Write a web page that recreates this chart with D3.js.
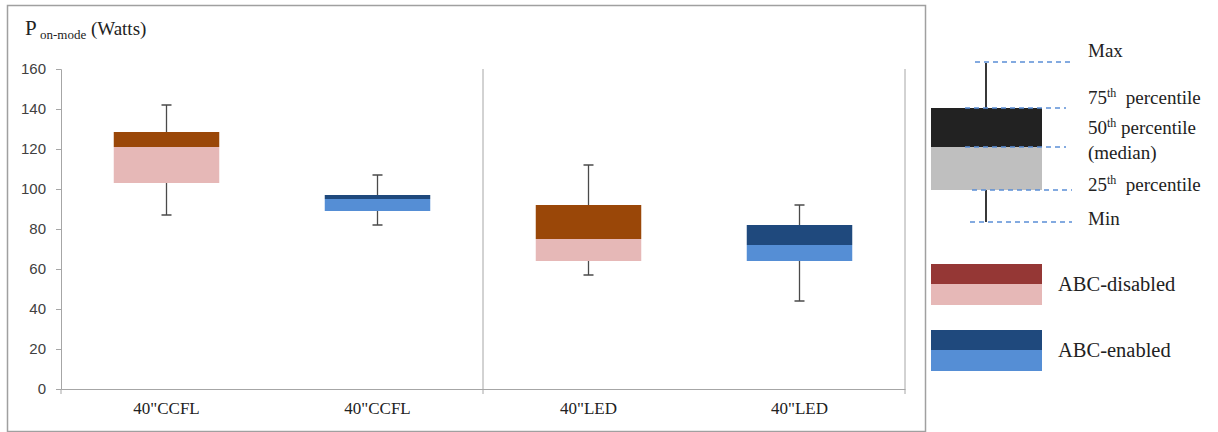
<!DOCTYPE html>
<html><head><meta charset="utf-8">
<script src="https://cdn.jsdelivr.net/npm/d3@7"></script>
<style>
body{margin:0;background:#fff;}
svg text{font-family:"Liberation Serif","DejaVu Serif",serif;white-space:pre;}
</style></head>
<body><svg id="c" width="1218" height="432"></svg>
<script>
const categories = ['40"CCFL_a','40"CCFL_b','40"LED_a','40"LED_b'];
const categoryLabels = ['40"CCFL','40"CCFL','40"LED','40"LED'];
const groups = ["disabled","enabled","disabled","enabled"];
const minVals = [87, 82, 57, 44];
const q1Vals = [103, 89, 64, 64];
const medianVals = [121, 95, 75, 72];
const q3Vals = [128.5, 97, 92, 82];
const maxVals = [142, 107, 112, 92];
const yTicks = [0,20,40,60,80,100,120,140,160];
const legendLabels = ["ABC-disabled","ABC-enabled"];

const colors = {
  disabled:{upper:"#9a4708", lower:"#e6b8b7", legendUpper:"#953735"},
  enabled:{upper:"#1f497d", lower:"#558ed5", legendUpper:"#1f497d"}
};

const svg = d3.select("#c");
svg.append("rect").attr("x",7.5).attr("y",5.5).attr("width",918).attr("height",426)
  .attr("fill","none").attr("stroke","#a0a0a0").attr("stroke-width",1.5);

const x = d3.scaleBand().domain(categories).range([61,905]).paddingInner(0).paddingOuter(0);
const y = d3.scaleLinear().domain([0,160]).range([389,69]);

const yAxis = svg.append("g").attr("transform","translate(61,0)")
  .call(d3.axisLeft(y).tickValues(yTicks).tickSize(5).tickPadding(10));
yAxis.select(".domain").attr("stroke","#a6a6a6");
yAxis.selectAll(".tick line").attr("stroke","#a6a6a6");
yAxis.selectAll("text").style("font-family","'Liberation Sans',Arial,sans-serif").style("font-size","15px").attr("fill","#404040");

const xAxis = svg.append("g").attr("transform","translate(0,389)")
  .call(d3.axisBottom(x).tickSize(0).tickPadding(13).tickFormat((d,i)=>categoryLabels[i]));
xAxis.select(".domain").attr("stroke","#a6a6a6");
xAxis.selectAll("text").style("font-size","17px").attr("fill","#222");
const bounds = [x(categories[0]), x(categories[2]), x(categories[3])+x.bandwidth()];
svg.selectAll(".btick").data(bounds).enter().append("line")
  .attr("x1",d=>d).attr("x2",d=>d).attr("y1",389).attr("y2",394).attr("stroke","#a6a6a6");
svg.append("line").attr("x1",x(categories[2])).attr("x2",x(categories[2])).attr("y1",y(160)).attr("y2",389).attr("stroke","#a6a6a6");
svg.append("line").attr("x1",x(categories[3])+x.bandwidth()).attr("x2",x(categories[3])+x.bandwidth()).attr("y1",y(160)).attr("y2",389).attr("stroke","#a6a6a6");

const t = svg.append("text").attr("x",25).attr("y",35).style("font-size","21px").attr("fill","#222");
t.append("tspan").text("P");
t.append("tspan").style("font-size","13px").attr("dy",4).text(" on-mode");
t.append("tspan").style("font-size","19px").attr("dy",-4).text(" (Watts)");

const bw = x.bandwidth()*0.5;
categories.forEach((c,i)=>{
  const cx = x(c)+x.bandwidth()/2;
  const g = svg.append("g");
  const col = colors[groups[i]];
  g.append("line").attr("x1",cx).attr("x2",cx).attr("y1",y(maxVals[i])).attr("y2",y(minVals[i])).attr("stroke","#4a4a4a").attr("stroke-width",1.3);
  [maxVals[i],minVals[i]].forEach(v=>{
    g.append("line").attr("x1",cx-5).attr("x2",cx+5).attr("y1",y(v)).attr("y2",y(v)).attr("stroke","#4a4a4a").attr("stroke-width",1.5);
  });
  g.append("rect").attr("x",cx-bw/2).attr("width",bw).attr("y",y(medianVals[i])).attr("height",y(q1Vals[i])-y(medianVals[i])).attr("fill",col.lower);
  g.append("rect").attr("x",cx-bw/2).attr("width",bw).attr("y",y(q3Vals[i])).attr("height",y(medianVals[i])-y(q3Vals[i])).attr("fill",col.upper);
});

const L = svg.append("g");
L.append("line").attr("x1",986).attr("x2",986).attr("y1",63).attr("y2",222).attr("stroke","#222").attr("stroke-width",1.8);
L.append("rect").attr("x",931).attr("y",108).attr("width",111).attr("height",39).attr("fill","#222");
L.append("rect").attr("x",931).attr("y",147).attr("width",111).attr("height",43).attr("fill","#bfbfbf");
const dashes = [[975,1072,62],[965,1066,108],[965,1066,147],[972,1072,190],[970,1072,222]];
dashes.forEach(d=>{
  L.append("line").attr("x1",d[0]).attr("x2",d[1]).attr("y1",d[2]).attr("y2",d[2])
    .attr("stroke","#5b8fd6").attr("stroke-width",1.3).attr("stroke-dasharray","5,4");
});
const lt = (txt,yy,sup,rest)=>{
  const e = L.append("text").attr("x",1088).attr("y",yy).style("font-size","19px").attr("fill","#222");
  e.append("tspan").text(txt);
  if(sup){ e.append("tspan").style("font-size","12px").attr("dy",-7).text(sup);
           e.append("tspan").attr("dy",7).text(rest); }
};
lt("Max",57);
lt("75",104,"th","  percentile");
lt("50",134,"th"," percentile");
lt("(median)",159);
lt("25",191,"th","  percentile");
lt("Min",225);

legendLabels.forEach((lab,i)=>{
  const key = i===0?"disabled":"enabled";
  const y0 = i===0?264:330;
  L.append("rect").attr("x",931).attr("y",y0).attr("width",111).attr("height",20).attr("fill",colors[key].legendUpper);
  L.append("rect").attr("x",931).attr("y",y0+20).attr("width",111).attr("height",21).attr("fill",colors[key].lower);
  L.append("text").attr("x",1058).attr("y",y0+27).style("font-size","20.5px").attr("fill","#222").text(lab);
});
</script></body></html>
